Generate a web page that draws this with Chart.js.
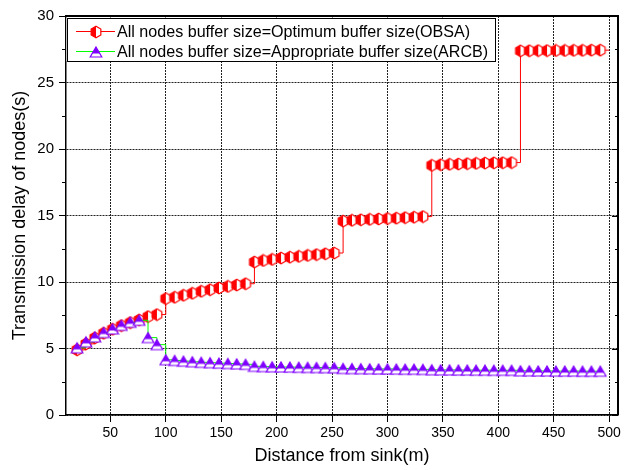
<!DOCTYPE html>
<html lang="en">
<head>
  <meta charset="UTF-8">
  <title>Transmission delay of nodes</title>
  <script src="https://cdn.jsdelivr.net/npm/chart.js"></script>
  <style>
    html, body { margin: 0; padding: 0; background: #fff; }
    .chart-box { width: 624px; height: 470px; }
  </style>
</head>
<body>
  <div class="chart-box"><canvas id="delayChart"></canvas></div>

  <script>
    // distance from sink (m), one node every 8 m; last entry only closes the OBSA line
    const distance = [
      20, 28, 36, 44, 52, 60, 68, 76, 84, 92,
      100, 108, 116, 124, 132, 140, 148, 156, 164, 172,
      180, 188, 196, 204, 212, 220, 228, 236, 244, 252,
      260, 268, 276, 284, 292, 300, 308, 316, 324, 332,
      340, 348, 356, 364, 372, 380, 388, 396, 404, 412,
      420, 428, 436, 444, 452, 460, 468, 476, 484, 492,
      500
    ];
    // transmission delay (s), all nodes at optimum buffer size
    const obsaDelay = [
      4.9, 5.35, 5.8, 6.15, 6.45, 6.72, 6.95, 7.15, 7.4, 7.55,
      8.75, 8.85, 9.0, 9.15, 9.3, 9.42, 9.55, 9.67, 9.77, 9.87,
      11.5, 11.62, 11.7, 11.8, 11.87, 11.93, 12.0, 12.06, 12.12, 12.18,
      14.58, 14.64, 14.68, 14.71, 14.74, 14.77, 14.8, 14.84, 14.87, 14.92,
      18.77, 18.82, 18.85, 18.87, 18.9, 18.92, 18.94, 18.96, 18.97, 18.98,
      27.38, 27.39, 27.4, 27.4, 27.41, 27.41, 27.42, 27.42, 27.43, 27.43,
      27.43
    ];
    // transmission delay (s), all nodes at appropriate buffer size
    const arcbDelay = [
      5.05, 5.5, 5.87, 6.2, 6.47, 6.74, 6.97, 7.12, 5.82, 5.29,
      4.15, 4.1, 4.05, 4.0, 3.96, 3.93, 3.9, 3.87, 3.84, 3.81,
      3.66, 3.64, 3.62, 3.61, 3.6, 3.59, 3.58, 3.57, 3.56, 3.55,
      3.5, 3.49, 3.48, 3.47, 3.46, 3.46, 3.45, 3.44, 3.44, 3.43,
      3.4, 3.39, 3.39, 3.38, 3.38, 3.37, 3.37, 3.36, 3.36, 3.36,
      3.32, 3.32, 3.31, 3.31, 3.3, 3.3, 3.3, 3.29, 3.29, 3.29,
      null
    ];
    const xTicks = [50, 100, 150, 200, 250, 300, 350, 400, 450, 500];
    const yTicks = [0, 5, 10, 15, 20, 25, 30];
    const yMinor = [2.5, 7.5, 12.5, 17.5, 22.5, 27.5];

    const RED = '#ff0000';
    const GREEN = '#00ff00';
    const PURPLE = '#8000ff';
    const FONT = "'Liberation Sans', Arial, sans-serif";

    Chart.defaults.font.family = FONT;
    Chart.defaults.color = '#000';

    // half filled hexagon (left half red)
    function makeHexagon() {
      const c = document.createElement('canvas');
      c.width = 14; c.height = 14;
      const g = c.getContext('2d');
      const path = () => {
        g.beginPath();
        for (let k = 0; k < 6; k++) {
          const a = Math.PI / 3 * k - Math.PI / 2;
          const px = 7 + 5.6 * Math.cos(a), py = 7 + 5.8 * Math.sin(a);
          if (k === 0) g.moveTo(px, py); else g.lineTo(px, py);
        }
        g.closePath();
      };
      path(); g.fillStyle = '#fff'; g.fill();
      g.save();
      g.beginPath(); g.rect(0, 0, 7, 14); g.clip();
      path(); g.fillStyle = RED; g.fill();
      g.restore();
      path(); g.strokeStyle = RED; g.lineWidth = 1.2; g.stroke();
      return c;
    }

    // half filled triangle (top half purple)
    function makeTriangle() {
      const c = document.createElement('canvas');
      c.width = 14; c.height = 14;
      const g = c.getContext('2d');
      const path = () => {
        g.beginPath();
        g.moveTo(7, 2); g.lineTo(12.8, 12); g.lineTo(1.2, 12);
        g.closePath();
      };
      path(); g.fillStyle = '#fff'; g.fill();
      g.save();
      g.beginPath(); g.rect(0, 0, 14, 8.5); g.clip();
      path(); g.fillStyle = PURPLE; g.fill();
      g.restore();
      path(); g.strokeStyle = PURPLE; g.lineWidth = 1.2; g.stroke();
      return c;
    }

    const hexMarker = makeHexagon();
    const triMarker = makeTriangle();

    // top/right frame and the extra axis ticks
    const framePlugin = {
      id: 'frame',
      afterDraw(chart) {
        const { ctx, chartArea: a, scales: { y } } = chart;
        ctx.save();
        ctx.strokeStyle = '#000';
        ctx.lineWidth = 2;
        ctx.beginPath();
        ctx.moveTo(a.left, a.top);
        ctx.lineTo(a.right, a.top);
        ctx.lineTo(a.right, a.bottom);
        ctx.stroke();
        ctx.lineWidth = 1;
        ctx.beginPath();
        yMinor.forEach(v => {
          const py = Math.round(y.getPixelForValue(v)) + 0.5;
          ctx.moveTo(a.left - 4, py); ctx.lineTo(a.left, py);
          ctx.moveTo(a.right - 3, py); ctx.lineTo(a.right, py);
        });
        yTicks.forEach(v => {
          const py = Math.round(y.getPixelForValue(v)) + 0.5;
          ctx.moveTo(a.right - 6, py); ctx.lineTo(a.right, py);
        });
        ctx.stroke();
        ctx.restore();
      }
    };

    // boxed legend in the top left corner of the plot
    const boxLegend = {
      id: 'boxLegend',
      afterDraw(chart) {
        const { ctx, chartArea: a } = chart;
        const x0 = a.left + 0.5, y0 = a.top + 1.5;
        const rows = [
          { ds: chart.data.datasets[0], marker: hexMarker },
          { ds: chart.data.datasets[1], marker: triMarker }
        ];
        ctx.save();
        ctx.fillStyle = '#fff';
        ctx.fillRect(x0, y0, 428.5, 43.5);
        ctx.strokeStyle = '#000';
        ctx.lineWidth = 1;
        ctx.strokeRect(Math.round(x0) + 0.5, Math.round(y0) + 0.5, 428, 43);
        ctx.font = '16.1px ' + FONT;
        ctx.textBaseline = 'middle';
        rows.forEach((r, i) => {
          const cy = Math.round(y0 + 13.5 + i * 20) + 0.5;
          ctx.strokeStyle = r.ds.borderColor;
          ctx.beginPath();
          ctx.moveTo(x0 + 9.5, cy); ctx.lineTo(x0 + 48.5, cy);
          ctx.stroke();
          ctx.drawImage(r.marker, Math.round(x0 + 29 - 7), Math.round(cy - 7));
          ctx.fillStyle = '#000';
          ctx.fillText(r.ds.label, x0 + 50.5, cy + 1);
        });
        ctx.restore();
      }
    };

    const gridOpts = { color: '#222', tickColor: '#000', tickLength: 7, lineWidth: 1 };
    const borderOpts = { color: '#000', width: 1.5, dash: [2, 1] };

    new Chart(document.getElementById('delayChart'), {
      type: 'line',
      data: {
        datasets: [
          {
            label: 'All nodes buffer size=Optimum buffer size(OBSA)',
            data: distance.map((d, i) => ({ x: d, y: obsaDelay[i] })),
            borderColor: RED,
            borderWidth: 1,
            stepped: 'before',
            pointStyle: hexMarker,
            pointRadius: ctx => ctx.dataIndex === distance.length - 1 ? 0 : 5,
            fill: false,
            order: 2
          },
          {
            label: 'All nodes buffer size=Appropriate buffer size(ARCB)',
            data: distance.map((d, i) => ({ x: d, y: arcbDelay[i] })).filter(p => p.y !== null),
            borderColor: GREEN,
            borderWidth: 1,
            stepped: 'before',
            pointStyle: triMarker,
            pointRadius: 5,
            fill: false,
            order: 1
          }
        ]
      },
      options: {
        responsive: true,
        maintainAspectRatio: false,
        animation: false,
        events: [],
        layout: { padding: { top: 16, right: 3, left: 0, bottom: 0 } },
        plugins: { legend: { display: false }, tooltip: { enabled: false } },
        scales: {
          x: {
            type: 'linear',
            min: 10,
            max: 508,
            afterBuildTicks: s => { s.ticks = xTicks.map(v => ({ value: v })); },
            afterFit: s => { s.height = 55; },
            ticks: { font: { size: 14 }, padding: 3, maxRotation: 0 },
            grid: gridOpts,
            border: borderOpts,
            title: { display: true, text: 'Distance from sink(m)', font: { size: 18 }, padding: { top: 0, bottom: 3 } }
          },
          y: {
            min: 0,
            max: 30,
            afterBuildTicks: s => { s.ticks = yTicks.map(v => ({ value: v })); },
            afterFit: s => { s.width = 66; },
            ticks: { font: { size: 15 }, padding: 5 },
            grid: gridOpts,
            border: borderOpts,
            title: { display: true, text: 'Transmission delay of nodes(s)', font: { size: 18 }, padding: { top: 9, bottom: 0 } }
          }
        }
      },
      plugins: [framePlugin, boxLegend]
    });
  </script>
</body>
</html>
